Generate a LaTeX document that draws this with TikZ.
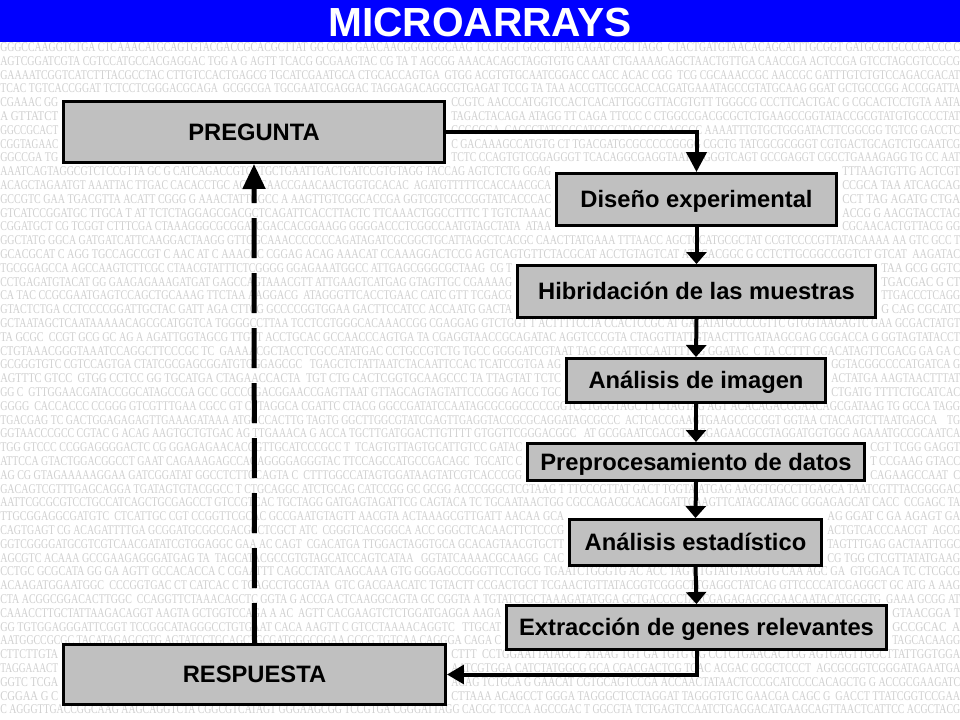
\documentclass[tikz,border=0pt]{standalone}
\usepackage{fontspec}
\setmainfont{Liberation Sans}
\newfontfamily\dnafont{Liberation Serif}
\usetikzlibrary{arrows.meta}

\definecolor{titleblue}{RGB}{0,0,255}
\definecolor{boxgray}{RGB}{192,192,192}
\definecolor{dnagray}{RGB}{208,208,208}

% random DNA string of #1 characters (first and last are letters)
\newcommand\dnagen[1]{%
  \gdef\dnastr{}%
  \foreach \dnai in {1,...,#1}{%
    \ifnum\dnai=1 \pgfmathrandominteger{\dnar}{0}{35}%
    \else\ifnum\dnai=#1 \pgfmathrandominteger{\dnar}{0}{35}%
    \else \pgfmathrandominteger{\dnar}{0}{39}\fi\fi
    \ifnum\dnar<9 \xdef\dnastr{\dnastr A}%
    \else\ifnum\dnar<18 \xdef\dnastr{\dnastr C}%
    \else\ifnum\dnar<28 \xdef\dnastr{\dnastr G}%
    \else\ifnum\dnar<36 \xdef\dnastr{\dnastr T}%
    \else \xdef\dnastr{\dnastr\space}\fi\fi\fi\fi}}

% segment of sequence text: name, x from, x to, baseline y
\newcommand\dnaseg[4]{%
  \pgfmathtruncatemacro\dnan{max(2,((#3)-(#2))/6.3)}%
  \dnagen{\dnan}%
  \pgfmathsetmacro\dnaw{((#3)-(#2))*0.75}%
  \node[dnatext] (#1) at (#2,#4) {\resizebox{\dnaw pt}{\height}{\dnastr}};}

\tikzset{
  dnatext/.style={anchor=base west, inner sep=0pt, text=dnagray,
    font=\dnafont\fontsize{10}{11}\selectfont},
  titletext/.style={anchor=base, inner sep=0pt, text=white,
    font=\bfseries\fontsize{30.5}{36}\selectfont},
  flowbox/.style={draw=black, fill=boxgray, line width=2pt, inner sep=0pt,
    text height=12.7pt, text depth=0pt, align=center,
    font=\bfseries\fontsize{17.8}{21}\selectfont},
  conn/.style={line width=3pt, draw=black},
  backconn/.style={line width=3.75pt, draw=black, dash pattern=on 30pt off 11.25pt}
}

\begin{document}
\begin{tikzpicture}[x=0.75pt,y=-0.75pt]
\useasboundingbox (0,0) rectangle (960,720);
\fill[white] (0,0) rectangle (960,720);

% background sequence texture (left out where boxes cover it)
\pgfmathsetseed{4242}
\foreach \n in {0,...,48}{%
  \pgfmathsetmacro\yb{51.5+13.8*\n}%
  \pgfmathsetmacro\ytop{\yb-6}%
  \pgfmathsetmacro\ybot{\yb-2.5}%
  \pgfmathtruncatemacro\lcut{(((\ybot>100)&&(\ytop<164))||((\ybot>643)&&(\ytop<706))) ? 1 : 0}%
  \gdef\rcut{0}%
  \foreach \xa/\xb/\ya/\yz in {555/838/172/227, 516/877/264/319, 565/827/357/404,
      526/866/442/482, 568/823/518/567, 505/888/604/651}{%
    \pgfmathtruncatemacro\hit{((\ybot>\ya)&&(\ytop<\yz)) ? 1 : 0}%
    \ifnum\hit=1 \xdef\rcut{1}\xdef\rxa{\xa}\xdef\rxb{\xb}\fi}%
  \ifnum\rcut=1
    \pgfmathsetmacro\rxl{\rxa-4}%
    \pgfmathsetmacro\rxr{\rxb+4}%
  \fi
  \ifnum\lcut=1
    \ifnum\rcut=1
      \dnaseg{dna\n-a}{0}{58}{\yb}%
      \dnaseg{dna\n-b}{451}{\rxl}{\yb}%
      \dnaseg{dna\n-c}{\rxr}{960}{\yb}%
    \else
      \dnaseg{dna\n-a}{0}{58}{\yb}%
      \dnaseg{dna\n-b}{451}{960}{\yb}%
    \fi
  \else
    \ifnum\rcut=1
      \dnaseg{dna\n-a}{0}{\rxl}{\yb}%
      \dnaseg{dna\n-c}{\rxr}{960}{\yb}%
    \else
      \dnaseg{dna\n-a}{0}{960}{\yb}%
    \fi
  \fi
}

% title bar
\fill[titleblue] (0,0) rectangle (960,42);
\node[titletext] (title) at (480,37) {MICROARRAYS};

% boxes
\node[flowbox, minimum width=286pt, minimum height=46pt] (preg) at (254,132) {PREGUNTA};
\node[flowbox, minimum width=210.2pt, minimum height=39.2pt] (dis) at (696.5,199.5) {Diseño experimental};
\node[flowbox, minimum width=268.7pt, minimum height=39.2pt] (hib) at (696.5,291.5) {Hibridación de las muestras};
\node[flowbox, minimum width=194.5pt, minimum height=33.2pt] (ana) at (696,380.5) {Análisis de imagen};
\node[flowbox, minimum width=253pt, minimum height=28pt] (pre) at (696,462) {Preprocesamiento de datos};
\node[flowbox, minimum width=189.2pt, minimum height=34.7pt] (est) at (695.5,542.5) {Análisis estadístico};
\node[flowbox, minimum width=285.2pt, minimum height=33.2pt] (ext) at (696.5,627.5) {Extracción de genes relevantes};
\node[flowbox, minimum width=286.7pt, minimum height=45.2pt] (resp) at (254.5,674.5) {RESPUESTA};

% connectors
\draw[conn, -{Triangle[length=15pt,width=15pt]}] (preg.east) -| (dis.north);
\draw[conn, -{Triangle[length=9pt,width=15pt]}] (dis.south) -- (hib.north);
\draw[conn, -{Triangle[length=9pt,width=15pt]}] (hib.south) -- (ana.north);
\draw[conn, -{Triangle[length=9pt,width=15pt]}] (ana.south) -- (pre.north);
\draw[conn, -{Triangle[length=9pt,width=15pt]}] (pre.south) -- (est.north);
\draw[conn, -{Triangle[length=9pt,width=15pt]}] (est.south) -- (ext.north);
\draw[conn, -{Triangle[length=12.75pt,width=14pt]}] (ext.south) |- (resp.east);
\draw[backconn, -{Triangle[length=18.75pt,width=16.5pt]}] (resp.north) -- (preg.south);
\end{tikzpicture}
\end{document}
